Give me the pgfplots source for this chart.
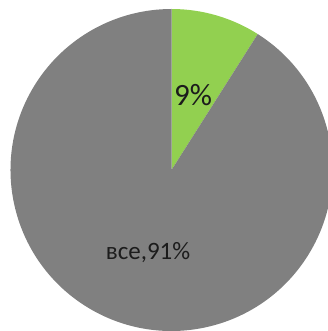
\documentclass[border=0pt]{standalone}
\usepackage{pgfplots}
\pgfplotsset{compat=1.18}
\usepackage{pgfplotstable}
\usepackage{fontspec}
\setmainfont{Carlito}
\definecolor{slicegreen}{RGB}{146,208,80}
\definecolor{slicegray}{RGB}{128,128,128}
\definecolor{labeltext}{RGB}{28,28,28}
\pgfplotstableread{
label value
other 9
all 91
}\piedata
\pgfplotstablegetelem{0}{value}\of\piedata \xdef\va{\pgfplotsretval}
\pgfplotstablegetelem{1}{value}\of\piedata \xdef\vb{\pgfplotsretval}
\pgfmathsetmacro{\anga}{90-3.6*\va}\xdef\anga{\anga}
\pgfmathsetmacro{\angb}{\anga-3.6*\vb}\xdef\angb{\angb}
\begin{document}
\begin{tikzpicture}
\begin{axis}[at={(0,0)}, anchor=south west, scale only axis,
  width=328bp, height=331bp, xmin=0, xmax=328, ymin=0, ymax=331,
  hide axis, clip=true]
\fill[slicegreen] (axis cs:171.5,161) -- ++(90:161bp) arc[start angle=90, end angle=\anga, radius=161bp] -- cycle;
\fill[slicegray] (axis cs:171.5,161) -- ++(\anga:161bp) arc[start angle=\anga, end angle=\angb, radius=161bp] -- cycle;
\node[anchor=base, text=labeltext, font=\fontsize{31bp}{36bp}\selectfont, inner sep=0pt] at (axis cs:193,225.5) {9\%};
\node[anchor=base, text=labeltext, font=\fontsize{25bp}{30bp}\selectfont, inner sep=0pt] at (axis cs:148,71) {все,91\%};
\end{axis}
\pgfresetboundingbox
\useasboundingbox (0,0) rectangle (328bp,331bp);
\end{tikzpicture}
\end{document}
